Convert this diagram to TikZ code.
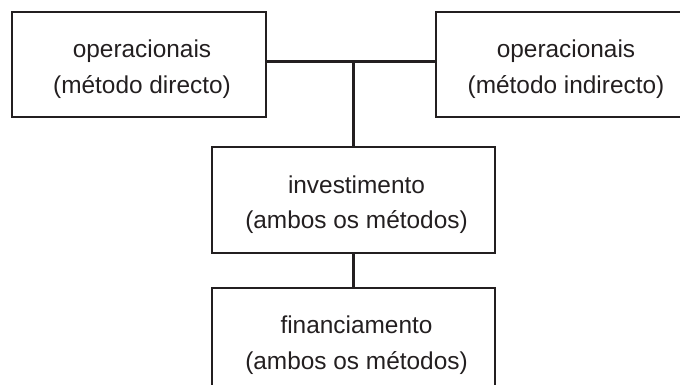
\documentclass[tikz,border=0pt]{standalone}
\usepackage{fontspec}
\setmainfont{Liberation Sans}
\definecolor{ink}{RGB}{35,31,32}
\begin{document}
\begin{tikzpicture}[x=0.5pt,y=-0.5pt,
  box/.style={draw=ink,line width=1.1pt,inner sep=0pt,minimum height=52.75pt},
  txt/.style={anchor=base,inner sep=0pt,text=ink,font=\fontsize{12.2}{14}\selectfont},
  conn/.style={draw=ink,line width=1.1pt}]
\path[use as bounding box] (0,0) rectangle (680,385);
\clip (0,0) rectangle (680,385);
\node[box,minimum width=127pt] (A) at (139,64.5) {};
\node[box,minimum width=127pt] (B) at (563,64.5) {};
\node[box,minimum width=141.5pt] (C) at (353.5,200) {};
\node[box,minimum width=141.5pt] (D) at (353.5,341) {};
\node[txt] (A1) at ([xshift=1.5pt,yshift=3.5pt]A.center) {operacionais};
\node[txt] (A2) at ([xshift=1.5pt,yshift=-14.5pt]A.center) {(método directo)};
\node[txt] (B1) at ([xshift=1.5pt,yshift=3.5pt]B.center) {operacionais};
\node[txt] (B2) at ([xshift=1.5pt,yshift=-14.5pt]B.center) {(método indirecto)};
\node[txt] (C1) at ([xshift=1.5pt,yshift=3.5pt]C.center) {investimento};
\node[txt] (C2) at ([xshift=1.5pt,yshift=-14pt]C.center) {(ambos os métodos)};
\node[txt] (D1) at ([xshift=1.5pt,yshift=4pt]D.center) {financiamento};
\node[txt] (D2) at ([xshift=1.5pt,yshift=-14pt]D.center) {(ambos os métodos)};
\coordinate (J) at ([yshift=1.5pt]A.east -| C.north);
\draw[conn] ([yshift=1.5pt]A.east) -- ([yshift=1.5pt]B.west);
\draw[conn] (J) -- (C.north);
\draw[conn] (C.south) -- (D.north);
\end{tikzpicture}
\end{document}
